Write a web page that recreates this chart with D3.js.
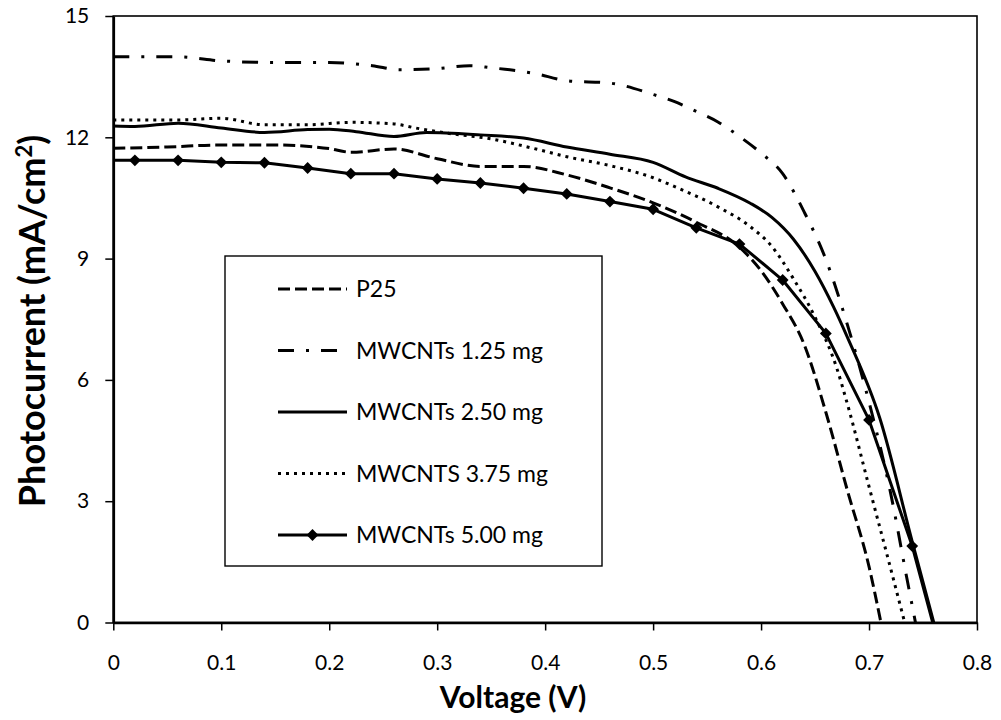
<!DOCTYPE html>
<html>
<head>
<meta charset="utf-8">
<script src="https://cdn.jsdelivr.net/npm/d3@7"></script>
<style>
  html, body { margin: 0; padding: 0; background: #fff; }
  svg { display: block; }
  text { font-family: Lato, "Open Sans", sans-serif; fill: #000; }
</style>
</head>
<body>
<svg id="chart" width="1001" height="720"></svg>
<script>
// J–V curves of the cells (voltage in V, photocurrent in mA/cm²)
const seriesNames = ["P25", "MWCNTs 1.25 mg", "MWCNTs 2.50 mg", "MWCNTS 3.75 mg", "MWCNTs 5.00 mg"];

const p25V = [0, 0.05, 0.10, 0.15, 0.20, 0.22, 0.26, 0.30, 0.34, 0.38, 0.42, 0.46, 0.50, 0.54, 0.58, 0.60, 0.62, 0.64, 0.66, 0.68, 0.70, 0.711];
const p25I = [11.73, 11.76, 11.81, 11.81, 11.72, 11.63, 11.71, 11.47, 11.28, 11.28, 11.07, 10.75, 10.38, 9.90, 9.28, 8.70, 7.88, 6.87, 5.20, 3.26, 1.38, 0];

const cnt125V = [0, 0.06, 0.10, 0.15, 0.20, 0.24, 0.265, 0.30, 0.33, 0.35, 0.39, 0.42, 0.46, 0.50, 0.52, 0.54, 0.56, 0.58, 0.60, 0.62, 0.64, 0.66, 0.68, 0.70, 0.72, 0.735, 0.743];
const cnt125I = [13.99, 13.99, 13.89, 13.85, 13.85, 13.77, 13.67, 13.70, 13.77, 13.72, 13.58, 13.40, 13.34, 13.06, 12.88, 12.64, 12.38, 12.02, 11.61, 11.10, 10.15, 8.98, 7.36, 5.45, 3.20, 1.10, 0];

const cnt250V = [0, 0.02, 0.06, 0.10, 0.14, 0.18, 0.20, 0.225, 0.26, 0.29, 0.34, 0.38, 0.42, 0.46, 0.50, 0.53, 0.56, 0.59, 0.61, 0.63, 0.65, 0.667, 0.68, 0.71, 0.74, 0.760];
const cnt250I = [12.28, 12.27, 12.35, 12.23, 12.12, 12.19, 12.20, 12.14, 12.02, 12.12, 12.06, 11.98, 11.76, 11.58, 11.38, 11.02, 10.74, 10.37, 10.02, 9.48, 8.68, 7.81, 7.05, 5.05, 2.00, 0];

const cnt375V = [0, 0.06, 0.10, 0.14, 0.18, 0.22, 0.26, 0.28, 0.31, 0.35, 0.39, 0.42, 0.46, 0.50, 0.52, 0.56, 0.59, 0.61, 0.63, 0.65, 0.67, 0.68, 0.70, 0.718, 0.733];
const cnt375I = [12.43, 12.43, 12.47, 12.31, 12.31, 12.37, 12.33, 12.23, 12.10, 11.96, 11.72, 11.52, 11.30, 11.00, 10.78, 10.28, 9.79, 9.30, 8.50, 7.55, 6.30, 5.40, 3.36, 1.54, 0];

const cnt500V = [0, 0.02, 0.06, 0.10, 0.14, 0.18, 0.22, 0.26, 0.30, 0.34, 0.38, 0.42, 0.46, 0.50, 0.54, 0.58, 0.62, 0.66, 0.70, 0.74, 0.759];
const cnt500I = [11.43, 11.43, 11.43, 11.38, 11.37, 11.24, 11.10, 11.10, 10.97, 10.87, 10.74, 10.60, 10.41, 10.22, 9.76, 9.36, 8.47, 7.15, 5.01, 1.89, 0];

const xTicks = [0, 0.1, 0.2, 0.3, 0.4, 0.5, 0.6, 0.7, 0.8];
const yTicks = [0, 3, 6, 9, 12, 15];
const xTitle = "Voltage (V)";

const zip = (vs, is) => vs.map((v, k) => ({ v, i: is[k] }));

// line styles per series
const series = [
  { name: seriesNames[0], pts: zip(p25V, p25I),       dash: "12,5",       curve: d3.curveMonotoneX, marker: false },
  { name: seriesNames[1], pts: zip(cnt125V, cnt125I), dash: "16,12,3,12", curve: d3.curveMonotoneX, marker: false },
  { name: seriesNames[2], pts: zip(cnt250V, cnt250I), dash: null,         curve: d3.curveMonotoneX, marker: false },
  { name: seriesNames[3], pts: zip(cnt375V, cnt375I), dash: "3,5",        curve: d3.curveMonotoneX, marker: false },
  { name: seriesNames[4], pts: zip(cnt500V, cnt500I), dash: null,         curve: d3.curveLinear,    marker: true }
];

const svg = d3.select("#chart");
const plotL = 113.3, plotR = 977, plotT = 16, plotB = 622.5;

const x = d3.scaleLinear().domain([0, 0.8]).range([plotL, plotR]);
const y = d3.scaleLinear().domain([0, 15]).range([plotB, plotT]);

// plot frame
svg.append("rect")
  .attr("x", plotL).attr("y", plotT)
  .attr("width", plotR - plotL).attr("height", plotB - plotT)
  .attr("fill", "none").attr("stroke", "#000").attr("stroke-width", 1.6);

// axes
const xAxis = d3.axisBottom(x).tickValues(xTicks).tickSizeInner(8).tickSizeOuter(0).tickPadding(25)
  .tickFormat(d => d === 0 ? "0" : d3.format(".1f")(d));
const gx = svg.append("g").attr("transform", `translate(0,${plotB})`).call(xAxis);
gx.select(".domain").attr("stroke-width", 2.6);
gx.selectAll(".tick line").attr("stroke-width", 1.5);
gx.selectAll(".tick text").attr("font-size", 21).attr("font-family", "Lato");

const yAxis = d3.axisLeft(y).tickValues(yTicks).tickSizeInner(8).tickSizeOuter(0).tickPadding(16).tickFormat(d3.format("d"));
const gy = svg.append("g").attr("transform", `translate(${plotL},0)`).call(yAxis);
gy.select(".domain").attr("stroke-width", 2.6);
gy.selectAll(".tick line").attr("stroke-width", 1.5);
gy.selectAll(".tick text").attr("font-size", 21).attr("font-family", "Lato");

// axis titles
svg.append("text")
  .attr("x", 513).attr("y", 708)
  .attr("text-anchor", "middle")
  .attr("font-size", 30).attr("font-weight", "bold")
  .text(xTitle);

const yTitle = svg.append("text")
  .attr("transform", "translate(45,321) rotate(-90)")
  .attr("text-anchor", "middle")
  .attr("font-size", 36).attr("font-weight", "bold");
yTitle.append("tspan").text("Photocurrent (mA/cm");
yTitle.append("tspan").attr("font-size", 22).attr("dy", -13).text("2");
yTitle.append("tspan").attr("dy", 13).text(")");

// curves
const line = d3.line().x(d => x(d.v)).y(d => y(d.i));
series.forEach(s => {
  svg.append("path")
    .datum(s.pts)
    .attr("d", line.curve(s.curve))
    .attr("fill", "none")
    .attr("stroke", "#000")
    .attr("stroke-width", 3)
    .attr("stroke-linejoin", "round")
    .attr("stroke-dasharray", s.dash);
  if (s.marker) {
    // diamonds on the measured points, not on the end points
    svg.append("g").selectAll("path")
      .data(s.pts.slice(1, -1))
      .join("path")
      .attr("d", d3.symbol(d3.symbolSquare, 70)())
      .attr("transform", d => `translate(${x(d.v)},${y(d.i)}) rotate(45)`)
      .attr("fill", "#000");
  }
});

// legend
const legend = svg.append("g");
legend.append("rect")
  .attr("x", 225).attr("y", 256)
  .attr("width", 377).attr("height", 310)
  .attr("fill", "#fff").attr("stroke", "#000").attr("stroke-width", 1.4);

series.forEach((s, k) => {
  const cy = 289 + k * 61.5;
  legend.append("line")
    .attr("x1", 278).attr("x2", 347).attr("y1", cy).attr("y2", cy)
    .attr("stroke", "#000").attr("stroke-width", 3)
    .attr("stroke-dasharray", s.dash);
  if (s.marker) {
    legend.append("path")
      .attr("d", d3.symbol(d3.symbolSquare, 70)())
      .attr("transform", `translate(312.5,${cy}) rotate(45)`)
      .attr("fill", "#000");
  }
  legend.append("text")
    .attr("x", 356).attr("y", cy).attr("dy", "0.36em")
    .attr("font-size", 23)
    .text(s.name);
});
</script>
</body>
</html>
